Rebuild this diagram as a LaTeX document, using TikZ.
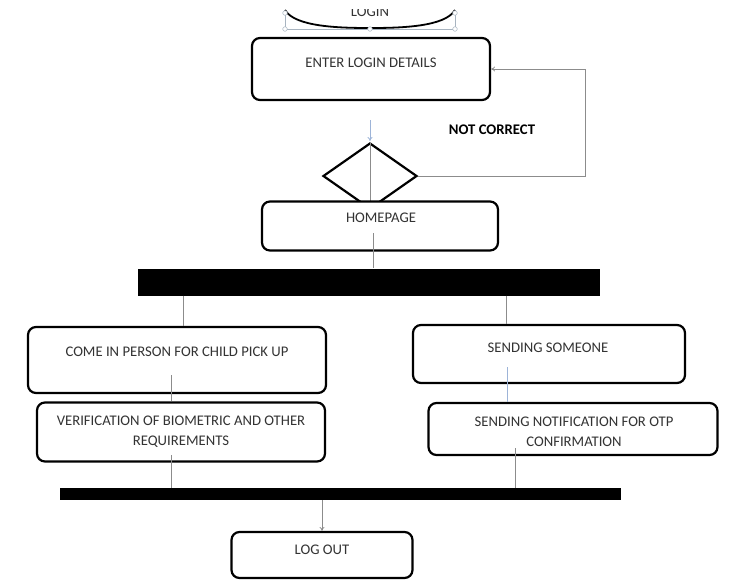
\documentclass[tikz,border=0pt]{standalone}
\usepackage{fontspec}
\setmainfont{Carlito}
\usetikzlibrary{shapes.geometric,arrows.meta}
\definecolor{inkgray}{HTML}{333333}
\definecolor{linegray}{HTML}{8C8C8C}
\definecolor{faintblue}{HTML}{9DB4D8}
\definecolor{handlegray}{HTML}{A8B4C0}
\tikzset{
  box/.style={draw, line width=2.2pt, rounded corners=8pt, fill=white, inner sep=0pt},
  lbl/.style={text=inkgray, font=\fontsize{14.7}{20}\selectfont, align=center, inner sep=0pt},
  conn/.style={draw=linegray, line width=0.8pt},
  bar/.style={fill=black, inner sep=0pt},
  tip/.style={-{To[length=4pt,width=5pt]}}
}
\begin{document}
\begin{tikzpicture}[x=1pt,y=-1pt]
\useasboundingbox (0,0) rectangle (737,582);

% start symbol, cut at the top
\begin{scope}
\clip (0,9) rectangle (737,40);
\node[lbl] (login) at (370,11.5) {LOGIN};
\end{scope}
\draw[handlegray, line width=0.6pt] (285,12) -- (285,29) -- (455,29) -- (455,12);
\draw[line width=1.8pt] (285,10) .. controls (295,27) and (340,28) .. (370,28)
  .. controls (400,28) and (445,27) .. (455,10);
\foreach \p in {(285,13),(285,29),(370,29),(455,29),(455,13)}
  \draw[handlegray, fill=white, line width=0.5pt] \p circle (2.3);

% login
\node[box, minimum width=238pt, minimum height=62pt] (enter) at (371,69) {};
\node[lbl] (enterlbl) at (371,63) {ENTER LOGIN DETAILS};

\coordinate (into) at (370,120);
\draw[faintblue, line width=0.8pt, tip] (into) -- (370,141);
\node[draw, diamond, line width=2.2pt, minimum width=94pt, minimum height=66pt, inner sep=0pt] (check) at (370,176) {};
\draw[conn] (check.north) -- (370,203);

\coordinate (turn) at (585,0);
\draw[conn, tip] (check.east) -- (check.east -| turn) -- (turn |- enter.east) -- (enter.east);
\node[lbl, font=\fontsize{14.7}{16}\selectfont\bfseries, text=black] (notok) at (492,130) {NOT CORRECT};

% homepage
\node[box, minimum width=236pt, minimum height=49pt] (home) at (380,226) {};
\node[lbl] (homelbl) at (381,218) {HOMEPAGE};

\node[bar, minimum width=462pt, minimum height=27pt] (bar1) at (369,282) {};
\coordinate (h1) at (373,233);
\draw[conn] (h1) -- (h1 |- bar1.north);

% left branch
\node[box, minimum width=298pt, minimum height=66pt] (come) at (177,360) {};
\node[lbl] (comelbl) at (177,352) {COME IN PERSON FOR CHILD PICK UP};
\node[box, minimum width=288pt, minimum height=59pt] (verif) at (181,432) {};
\node[lbl] (veriflbl) at (181,432) {VERIFICATION OF BIOMETRIC AND OTHER\\REQUIREMENTS};

% right branch
\node[box, minimum width=272pt, minimum height=58pt] (send) at (549,354) {};
\node[lbl] (sendlbl) at (548,348) {SENDING SOMEONE};
\node[box, minimum width=289pt, minimum height=52pt] (notify) at (573,429) {};
\node[lbl] (notifylbl) at (574,432) {SENDING NOTIFICATION FOR OTP\\CONFIRMATION};

\node[bar, minimum width=561pt, minimum height=12pt] (bar2) at (340,494) {};

% links
\coordinate (l1) at (183,0);
\coordinate (l2) at (171,375);
\coordinate (l3) at (171,455);
\coordinate (r1) at (506,0);
\coordinate (r2) at (507,367);
\coordinate (r3) at (515,448);
\draw[conn] (l1 |- bar1.south) -- (l1 |- come.north);
\draw[conn] (l2) -- (l2 |- verif.north);
\draw[conn] (l3) -- (l3 |- bar2.north);
\draw[conn] (r1 |- bar1.south) -- (r1 |- send.north);
\draw[faintblue, line width=0.8pt] (r2) -- (r2 |- notify.north);
\draw[conn] (r3) -- (r3 |- bar2.north);

% logout
\node[box, minimum width=181pt, minimum height=46pt] (logout) at (322,555) {};
\node[lbl] (logoutlbl) at (322,550) {LOG OUT};
\draw[conn, tip] (bar2.south -| logout.north) -- (logout.north);
\end{tikzpicture}
\end{document}
